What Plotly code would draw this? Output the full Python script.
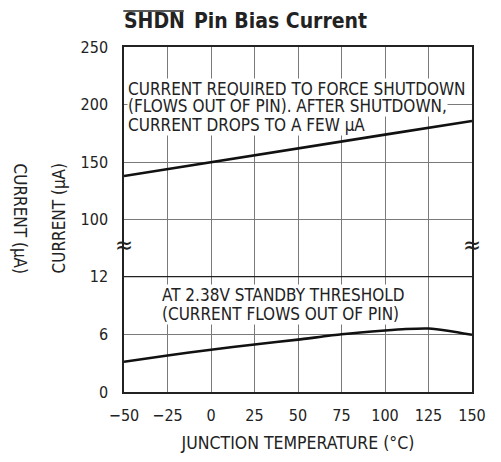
import plotly.graph_objects as go

# Data
temps_upper = [-50, 0, 50, 100, 150]
current_upper = [137.8, 150, 161.9, 173.8, 185.7]

temps_lower = [-50, -25, 0, 25, 50, 75, 100, 112, 125, 137, 150]
current_lower = [3.15, 3.8, 4.4, 4.95, 5.45, 6.0, 6.4, 6.55, 6.6, 6.35, 5.95]

x_ticks = [-50, -25, 0, 25, 50, 75, 100, 125, 150]
upper_ticks = [100, 150, 200, 250]
lower_ticks = [0, 6, 12]

upper_note = ["CURRENT REQUIRED TO FORCE SHUTDOWN",
              "(FLOWS OUT OF PIN). AFTER SHUTDOWN,",
              "CURRENT DROPS TO A FEW µA"]
lower_note = ["AT 2.38V STANDBY THRESHOLD",
              "(CURRENT FLOWS OUT OF PIN)"]

FONT = "Liberation Sans Narrow, DejaVu Sans Condensed, Arial Narrow, Liberation Sans, sans-serif"
GRID = "#7a7a7a"
TXT = "#222"
BREAK = 0.4171

fig = go.Figure()
fig.add_trace(go.Scatter(x=temps_upper, y=current_upper, mode="lines",
                         line=dict(color="#111", width=2.6), xaxis="x2", yaxis="y2",
                         showlegend=False, hoverinfo="skip"))
fig.add_trace(go.Scatter(x=temps_lower, y=current_lower, mode="lines",
                         line=dict(color="#111", width=2.6, shape="spline", smoothing=0.6),
                         xaxis="x", yaxis="y", showlegend=False, hoverinfo="skip"))

tickfont = dict(family=FONT, size=16, color=TXT)

# the page body has an 8px default margin, so the figure is sized to fit the window
fig.update_layout(
    width=493, height=454,
    margin=dict(l=116, r=29, t=39, b=59),
    paper_bgcolor="white", plot_bgcolor="white",
    xaxis=dict(domain=[0, 1], range=[-50, 150], tickvals=x_ticks,
               showgrid=True, gridcolor=GRID, gridwidth=1, zeroline=False,
               showline=True, linecolor=TXT, linewidth=1.5, mirror=False,
               ticks="", tickfont=tickfont, ticklabelstandoff=8,
               title=dict(text="JUNCTION TEMPERATURE (°C)", font=dict(family=FONT, size=17.5, color=TXT),
                          standoff=13)),
    xaxis2=dict(domain=[0, 1], range=[-50, 150], tickvals=x_ticks, anchor="y2",
                showgrid=True, gridcolor=GRID, gridwidth=1, zeroline=False,
                showline=True, linecolor=TXT, linewidth=1.5, side="top",
                showticklabels=False, ticks=""),
    yaxis=dict(domain=[0, BREAK], range=[0, 14.97], tickvals=lower_ticks,
               showgrid=True, gridcolor=GRID, gridwidth=1, zeroline=False,
               showline=True, linecolor=TXT, linewidth=1.5, mirror=True,
               ticks="", tickfont=tickfont, ticklabelstandoff=11),
    yaxis2=dict(domain=[BREAK, 1], range=[75.14, 250], tickvals=upper_ticks, anchor="x2",
                showgrid=True, gridcolor=GRID, gridwidth=1, zeroline=False,
                showline=True, linecolor=TXT, linewidth=1.5, mirror=True,
                ticks="", tickfont=tickfont, ticklabelstandoff=11),
)

# darker line at 12 (top of lower section)
fig.add_shape(type="line", xref="x", yref="y", x0=-50, x1=150, y0=12, y1=12,
              line=dict(color=TXT, width=1.2))
# overline above "SHDN" in the title
fig.add_shape(type="line", xref="paper", yref="paper", x0=-0.002, x1=0.172,
              y0=1.1045, y1=1.1045, line=dict(color=TXT, width=1.6))

titlefont = dict(family=FONT, size=21, color=TXT, weight="bold")
notefont = dict(family=FONT, size=17, color=TXT)
annotations = [
    dict(text="SHDN", xref="paper", yref="paper", x=-0.003, y=1.0, yshift=26,
         xanchor="left", yanchor="middle", showarrow=False, borderpad=0, font=titlefont),
    dict(text="Pin Bias Current", xref="paper", yref="paper", x=0.1983, y=1.0, yshift=26,
         xanchor="left", yanchor="middle", showarrow=False, borderpad=0, font=titlefont),
    dict(text="CURRENT (µA)", xref="paper", yref="paper", x=0, xshift=-66, y=0.5, yshift=1,
         textangle=-90, showarrow=False, xanchor="center", yanchor="middle",
         font=dict(family=FONT, size=17, color=TXT)),
    dict(text="CURRENT (µA)", xref="paper", yref="paper", x=0, xshift=-104, y=0.5, yshift=1,
         textangle=90, showarrow=False, xanchor="center", yanchor="middle",
         font=dict(family=FONT, size=17, color=TXT)),
    dict(text="≈", xref="x", yref="paper", x=-50, y=BREAK, yshift=3, showarrow=False,
         xanchor="center", yanchor="middle", font=dict(family=FONT, size=24, color=TXT)),
    dict(text="≈", xref="x", yref="paper", x=150, y=BREAK, yshift=3, showarrow=False,
         xanchor="center", yanchor="middle", font=dict(family=FONT, size=24, color=TXT)),
]
for txt, yv in zip(upper_note, [213.8, 198.6, 182.6]):
    annotations.append(dict(text=txt, xref="x2", yref="y2", x=-48.3, y=yv,
                            xanchor="left", yanchor="middle", align="left", showarrow=False,
                            bgcolor="white", borderpad=0, font=notefont))
for txt, yv in zip(lower_note, [10.08, 8.07]):
    annotations.append(dict(text=txt, xref="x", yref="y", x=-28.5, y=yv,
                            xanchor="left", yanchor="middle", align="left", showarrow=False,
                            bgcolor="white", borderpad=0, font=notefont))
fig.update_layout(annotations=annotations)

fig.write_html("out.html")
